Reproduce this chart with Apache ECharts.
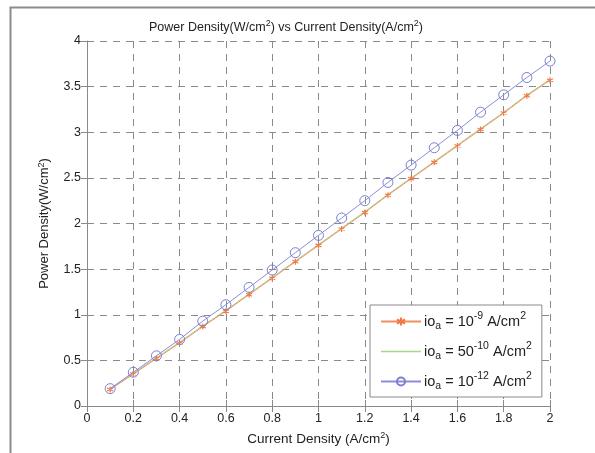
<!DOCTYPE html>
<html><head><meta charset="utf-8">
<script src="https://cdn.jsdelivr.net/npm/echarts@6/dist/echarts.min.js"></script>
<style>html,body{margin:0;padding:0;background:#fff}#c{width:595px;height:453px}</style>
</head><body><div id="c"></div>
<script>
var currentDensity = [0.1,0.2,0.3,0.4,0.5,0.6,0.7,0.8,0.9,1.0,1.1,1.2,1.3,1.4,1.5,1.6,1.7,1.8,1.9,2.0];
var powerIo9  = [0.18,0.35,0.52,0.69,0.87,1.04,1.22,1.40,1.58,1.76,1.94,2.12,2.31,2.49,2.67,2.85,3.03,3.21,3.40,3.57];
var powerIo50 = [0.19,0.36,0.53,0.70,0.88,1.05,1.23,1.41,1.59,1.77,1.95,2.13,2.32,2.50,2.68,2.86,3.04,3.22,3.41,3.58];
var powerIo12 = [0.19,0.37,0.55,0.73,0.93,1.11,1.30,1.49,1.68,1.87,2.06,2.25,2.45,2.64,2.83,3.02,3.22,3.41,3.60,3.78];
var xTicks = [0,0.2,0.4,0.6,0.8,1,1.2,1.4,1.6,1.8,2];
var yTicks = [0,0.5,1,1.5,2,2.5,3,3.5,4];
var seriesNames = ['io9','io50','io12'];
var legendLabels = {
  io9: 'io{sub|a} = 10{sup|-9} A/cm{sup|2}',
  io50: 'io{sub|a} = 50{sup|-10} A/cm{sup|2}',
  io12: 'io{sub|a} = 10{sup|-12} A/cm{sup|2}'
};
function pairs(ys){ return currentDensity.map(function(x,i){return [x, ys[i]];}); }

var FONT = 'Liberation Sans, Arial, sans-serif';
var TXT = '#222';
var GREEN = '#a9d68e';
function richFor(size){
  return {
    sup: {fontSize: Math.round(size*0.7), verticalAlign: 'top', lineHeight: Math.round(size*0.7), fontFamily: FONT, color: TXT},
    sub: {fontSize: Math.round(size*0.7), verticalAlign: 'bottom', lineHeight: Math.round(size*0.7), fontFamily: FONT, color: TXT}
  };
}
var gridLine = {show: true, lineStyle: {color: '#8a8a8a', type: [7,6], width: 1}};
var asterisk = 'path://M0,-5L0,5M-4.3,-2.5L4.3,2.5M-4.3,2.5L4.3,-2.5';

var chart = echarts.init(document.getElementById('c'));
chart.setOption({
  backgroundColor: '#fff',
  animation: false,
  graphic: [{
    type: 'rect', left: 8, top: 5,
    shape: {width: 600, height: 460},
    style: {fill: 'none', stroke: '#8c8c8c', lineWidth: 2}
  }],
  title: {
    text: 'Power Density(W/cm{sup|2}) vs Current Density(A/cm{sup|2})',
    left: 281, textAlign: 'center', top: 14,
    textStyle: {fontSize: 12.5, fontWeight: 'normal', color: TXT, fontFamily: FONT, lineHeight: 17, rich: richFor(12.5)}
  },
  grid: {left: 87, right: 45, top: 41, bottom: 47},
  legend: {
    orient: 'vertical', left: 370, top: 305,
    data: [{name: 'io9'},
           {name: 'io50', icon: 'path://M0,0L40,0L40,1.5L0,1.5Z', itemStyle: {color: GREEN, borderColor: GREEN, borderWidth: 0}},
           {name: 'io12'}],
    formatter: function(n){ return legendLabels[n]; },
    itemWidth: 40, itemHeight: 10, itemGap: 9,
    padding: [6, 10, 5, 10],
    backgroundColor: '#fff', borderColor: '#8a8a8a', borderWidth: 1,
    textStyle: {fontSize: 14.5, color: TXT, fontFamily: FONT, lineHeight: 21, padding: [0,0,0,-2],
      rich: {sup: {fontSize: 10.5, verticalAlign: 'top', lineHeight: 10, fontFamily: FONT, color: TXT},
             sub: {fontSize: 10.5, verticalAlign: 'bottom', lineHeight: 10, fontFamily: FONT, color: TXT}}}
  },
  xAxis: [{
    type: 'value', min: 0, max: 2, interval: 0.2,
    name: 'Current Density (A/cm{sup|2})', nameLocation: 'middle', nameGap: 25,
    nameTextStyle: {fontSize: 13.5, color: TXT, fontFamily: FONT, lineHeight: 17, rich: richFor(13.5)},
    axisLine: {show: true, lineStyle: {color: '#8a8a8a', width: 1}},
    axisTick: {show: true, inside: true, length: 6, lineStyle: {color: '#8a8a8a'}},
    axisLabel: {fontSize: 12.5, color: TXT, fontFamily: FONT, margin: 6,
      formatter: function(v){ return xTicks.indexOf(+v.toFixed(1)) >= 0 ? String(+v.toFixed(1)) : ''; }},
    splitLine: gridLine
  }, {
    type: 'value', position: 'top', min: 0, max: 2, interval: 0.2,
    axisLine: {show: false}, axisLabel: {show: false}, splitLine: {show: false},
    axisTick: {show: true, inside: true, length: 6, lineStyle: {color: '#8a8a8a'}}
  }],
  yAxis: [{
    type: 'value', min: 0, max: 4, interval: 0.5,
    name: 'Power Density(W/cm{sup|2})', nameLocation: 'middle', nameGap: 33, nameRotate: 90,
    nameTextStyle: {fontSize: 13, color: TXT, fontFamily: FONT, lineHeight: 16, rich: richFor(13)},
    axisLine: {show: true, lineStyle: {color: '#8a8a8a', width: 1}},
    axisTick: {show: true, inside: true, length: 6, lineStyle: {color: '#8a8a8a'}},
    axisLabel: {fontSize: 12.5, color: TXT, fontFamily: FONT, margin: 6,
      formatter: function(v){ return String(+v.toFixed(1)); }},
    splitLine: gridLine
  }, {
    type: 'value', position: 'right', min: 0, max: 4, interval: 0.5,
    axisLine: {show: false}, axisLabel: {show: false}, splitLine: {show: false},
    axisTick: {show: true, inside: true, length: 6, lineStyle: {color: '#8a8a8a'}}
  }],
  series: [{
    name: 'io9', type: 'line', data: pairs(powerIo9),
    symbol: asterisk, symbolSize: 6,
    itemStyle: {color: '#f07a45', borderColor: '#f07a45', borderWidth: 1.2},
    lineStyle: {color: '#f0905e', width: 1}, z: 3
  }, {
    name: 'io50', type: 'line', data: pairs(powerIo50),
    symbol: 'none',
    itemStyle: {color: GREEN},
    lineStyle: {color: GREEN, width: 1}, z: 2
  }, {
    name: 'io12', type: 'line', data: pairs(powerIo12),
    symbol: 'circle', symbolSize: 10,
    itemStyle: {color: 'rgba(255,255,255,0)', borderColor: '#7b7fd0', borderWidth: 1},
    lineStyle: {color: '#8a8ed6', width: 1}, z: 4
  }]
});
</script></body></html>
